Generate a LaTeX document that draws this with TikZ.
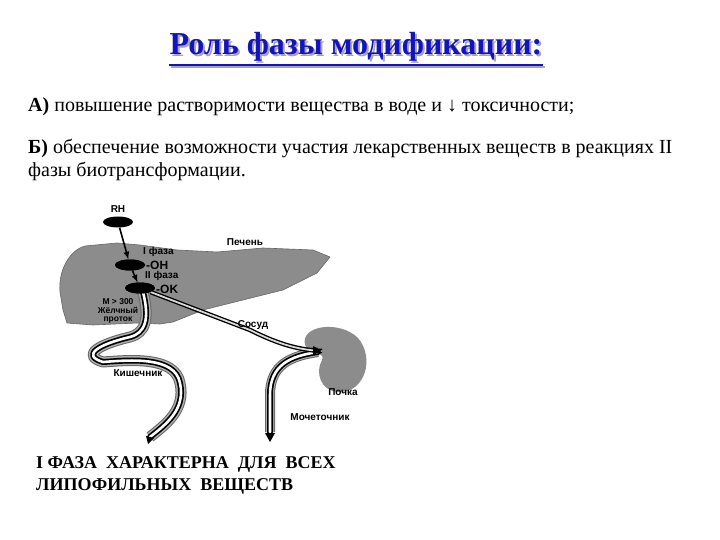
\documentclass[tikz,border=0pt]{standalone}
\usepackage{fontspec}
\setmainfont{Liberation Serif}
\newfontfamily\sansf{Liberation Sans}
\usetikzlibrary{shapes.geometric}
\begin{document}
\begin{tikzpicture}[x=1pt,y=-1pt,
  lab/.style={font=\sansf\fontsize{10}{11}\selectfont\bfseries, inner sep=0pt},
  body/.style={font=\fontsize{20}{24}\selectfont, anchor=west, inner sep=0pt},
  mol/.style={ellipse, fill=black, minimum width=30pt, minimum height=11pt, inner sep=0pt},
  tube/.style={line width=6pt, draw=black, line cap=round, line join=round},
  tubein/.style={line width=2.6pt, draw=white, line cap=round, line join=round}]
\useasboundingbox (0,0) rectangle (720,540);
\definecolor{ttl}{RGB}{20,20,190}
\definecolor{org}{RGB}{140,140,140}
\node[font=\fontsize{32}{36}\selectfont\bfseries, text=gray!70, inner sep=0pt] (tsh) at (358,49) {Роль фазы модификации:};
\draw[gray!70, line width=2pt] ([yshift=-3pt]tsh.south west) -- ([yshift=-3pt]tsh.south east);
\node[font=\fontsize{32}{36}\selectfont\bfseries, text=ttl, inner sep=0pt] (title) at (356,47) {Роль фазы модификации:};
\draw[ttl, line width=2pt] ([yshift=-3pt]title.south west) -- ([yshift=-3pt]title.south east);
\node[body] (a) at (28,107) {\textbf{А)} повышение растворимости вещества в воде и ↓ токсичности;};
\node[body] (b) at (28,149) {\textbf{Б)} обеспечение возможности участия лекарственных веществ в реакциях II};
\node[body] (b2) at (28,171) {фазы биотрансформации.};
% liver
\path[fill=org, draw=black!60, line width=0.6pt] (60,292) .. controls (58,270) and (70,250) .. (85,246)
 -- (117,243) -- (140,245) -- (177,250) -- (217,252) -- (263,248) -- (313,250) -- (330,257)
 -- (317,273) -- (283,290) -- (243,300) -- (203,310) -- (173,322) -- (160,324) -- (137,323)
 -- (93,325) -- (67,323) -- (63,310) -- cycle;
% intestine
\def\intpath{(143,292) .. controls (150,320) and (145,333) .. (130,337)
 .. controls (100,344) and (80,355) .. (103,362) .. controls (130,360) and (175,356) .. (180,383)
 .. controls (186,410) and (165,425) .. (150,437)}
\path[draw=black!60, line width=11pt, line join=round] \intpath;
\path[draw=org!70, line width=9pt, line join=round] \intpath;
\path[tube] \intpath;
\path[tubein] \intpath;
\coordinate (intend) at (148,444);
\fill (146,436) -- (154,438) -- (intend) -- cycle;
% kidney
\path[fill=org] (305,345) .. controls (300,325) and (340,320) .. (358,338)
 .. controls (375,358) and (365,392) .. (340,392) .. controls (320,392) and (315,372) .. (322,360)
 .. controls (326,352) and (310,355) .. (305,345) -- cycle;
% ureter
\def\urpath{(318,352) .. controls (290,356) and (270,365) .. (270,395) -- (270,432)}
\path[draw=black!60, line width=10pt] \urpath;
\path[draw=org!70, line width=8pt] \urpath;
\path[tube] \urpath;
\path[tubein] \urpath;
\coordinate (urend) at (270,442);
\fill (265,433) -- (275,433) -- (urend) -- cycle;
% vessel
\node[mol] (rh) at (118,222) {};
\node[mol] (oh) at (130,265) {};
\node[mol] (ok) at (140,288) {};
\coordinate (kid) at (322,351);
\path[draw=black, line width=4.5pt] (ok) -- (250,330) .. controls (280,345) and (300,350) .. (kid);
\path[draw=white!85!black, line width=1.8pt] (ok) -- (250,330) .. controls (280,345) and (300,350) .. (kid);
\fill (kid) -- ++(-9,-5) -- ++(0,9) -- cycle;
\draw[line width=1.6pt, -latex] (rh) -- (oh);
\draw[line width=1.6pt, -latex] (oh) -- (ok);
\node[mol] at (130,265) {};
\node[mol] at (140,288) {};
% labels
\node[lab] (lrh) at (118,209) {RH};
\node[lab] (lpe) at (245,242) {Печень};
\node[lab, anchor=west] (l1) at (143,252) {I фаза};
\node[lab, font=\sansf\fontsize{12}{13}\selectfont\bfseries, anchor=west] (loh) at (146,265) {-OH};
\node[lab, anchor=west] (l2) at (145,276) {II фаза};
\node[lab, font=\sansf\fontsize{12}{13}\selectfont\bfseries, anchor=west] (lok) at (156,289) {-OK};
\node[lab, align=center, font=\sansf\fontsize{8.5}{8.5}\selectfont\bfseries] (lm) at (118,311) {M > 300\\Жёлчный\\проток};
\node[lab] (lsos) at (253,325) {Сосуд};
\node[lab] (lkish) at (138,373) {Кишечник};
\node[lab] (lpoch) at (343,392) {Почка};
\node[lab] (lmoch) at (320,417) {Мочеточник};
\node[font=\fontsize{18}{22}\selectfont\bfseries, align=left, anchor=north west, inner sep=0pt] (conc) at (36,456) {I ФАЗА\ \ ХАРАКТЕРНА\ \ ДЛЯ\ \ ВСЕХ\\ЛИПОФИЛЬНЫХ\ \ ВЕЩЕСТВ};
\end{tikzpicture}
\end{document}
